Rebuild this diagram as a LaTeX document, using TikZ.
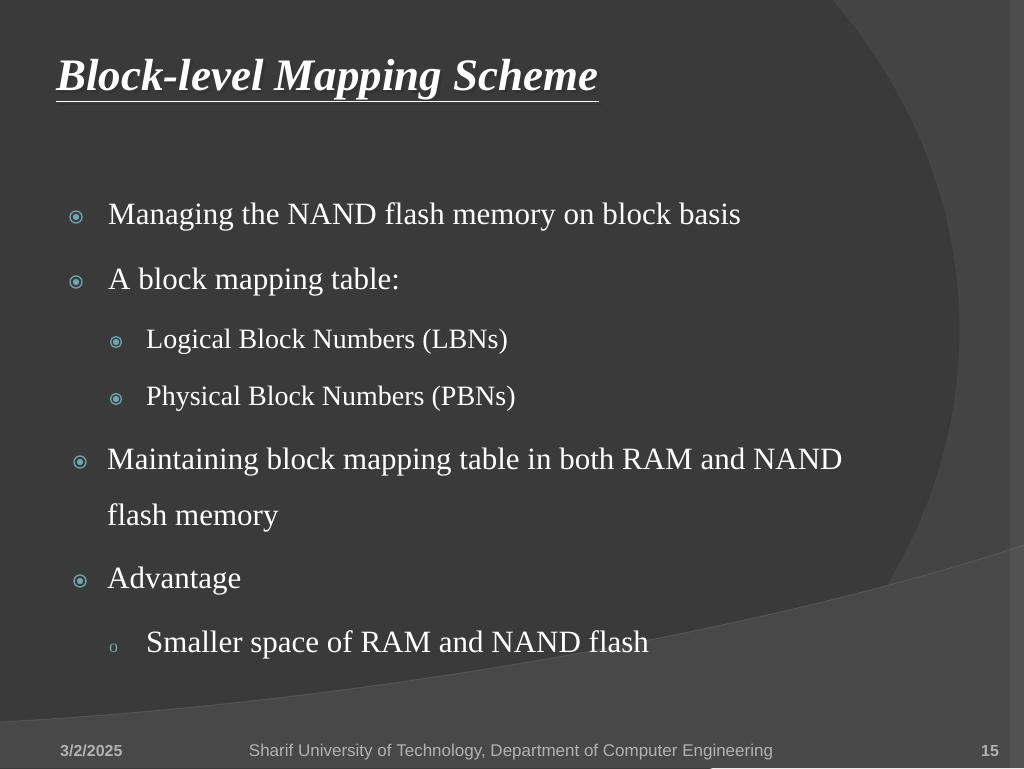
\documentclass[tikz,border=0pt]{standalone}
\usepackage{fontspec}
\setmainfont{Liberation Serif}
\newfontfamily\footfont{Liberation Sans}
\begin{document}
\begin{tikzpicture}[x=1pt,y=-1pt,
  txt/.style={anchor=west,text=white,inner sep=0pt,font=\fontsize{31}{36}\selectfont},
  sub/.style={anchor=west,text=white,inner sep=0pt,font=\fontsize{28}{32}\selectfont},
  foot/.style={inner sep=0pt,text=gray!60,anchor=base,font=\footfont\fontsize{17}{19}\selectfont},
  bul/.style={circle,draw=bulc,line width=1.3pt,fill=none,minimum size=12pt,inner sep=0pt,
    path picture={\fill[bulc] (path picture bounding box.center) circle (3.2pt);}}]
\definecolor{bulc}{HTML}{6FA5AE}
\definecolor{bgA}{HTML}{3A3A3A}
\definecolor{bgB}{HTML}{444444}
\definecolor{bgC}{HTML}{4A4A4A}
\useasboundingbox (0,0) rectangle (1024,768);
\fill[bgB] (0,0) rectangle (1024,768);
\begin{scope}
\clip (0,0) rectangle (1024,768);
\fill[bgA] (300,330) ellipse [x radius=660, y radius=560];
\draw[black!70,line width=1.2pt,opacity=0.5] (300,330) ellipse [x radius=660, y radius=560];
\fill[bgC,opacity=0.9] (0,722) .. controls (400,700) and (800,620) .. (1024,545) -- (1024,768) -- (0,768) -- cycle;
\draw[black!60,opacity=0.5,line width=1pt] (0,722) .. controls (400,700) and (800,620) .. (1024,545);
\fill[white,opacity=0.05] (1010,0) rectangle (1024,768);
\end{scope}
\node (title) [anchor=west,inner sep=0pt,text=white,font=\bfseries\itshape\fontsize{45}{50}\selectfont] at (56,82)
  {\rlap{\hspace{3pt}\raisebox{-3pt}{\textcolor{black!80}{\underline{Block-level Mapping Scheme}}}}\underline{Block-level Mapping Scheme}};
\node[bul] (b1) at (76,217) {}; \node[txt] (t1) at (108,217) {Managing the NAND flash memory on block basis};
\node[bul] (b2) at (76,282) {}; \node[txt] (t2) at (108,282) {A block mapping table:};
\node[bul,minimum size=11pt] (b3) at (116,342) {}; \node[sub] (t3) at (146,342) {Logical Block Numbers (LBNs)};
\node[bul,minimum size=11pt] (b4) at (116,399) {}; \node[sub] (t4) at (146,399) {Physical Block Numbers (PBNs)};
\node[bul] (b5) at (80,462) {}; \node[txt] (t5) at (107,462) {Maintaining block mapping table in both RAM and NAND};
\node[txt] (t6) at (107,518) {flash memory};
\node[bul] (b7) at (80,581) {}; \node[txt] (t7) at (107,581) {Advantage};
\node[anchor=west,inner sep=0pt,text=bulc,font=\fontsize{18}{20}\selectfont] (b8) at (109,648) {o};
\node[txt] (t8) at (146,645) {Smaller space of RAM and NAND flash};
\node[foot,anchor=base west,font=\footfont\bfseries\fontsize{16}{18}\selectfont] (d) at (60,756) {3/2/2025};
\node[foot] (f) at (511,756) {Sharif University of Technology, Department of Computer Engineering};
\node[foot,font=\footfont\bfseries\fontsize{16}{18}\selectfont] (n) at (990,756) {15};
\end{tikzpicture}
\end{document}
